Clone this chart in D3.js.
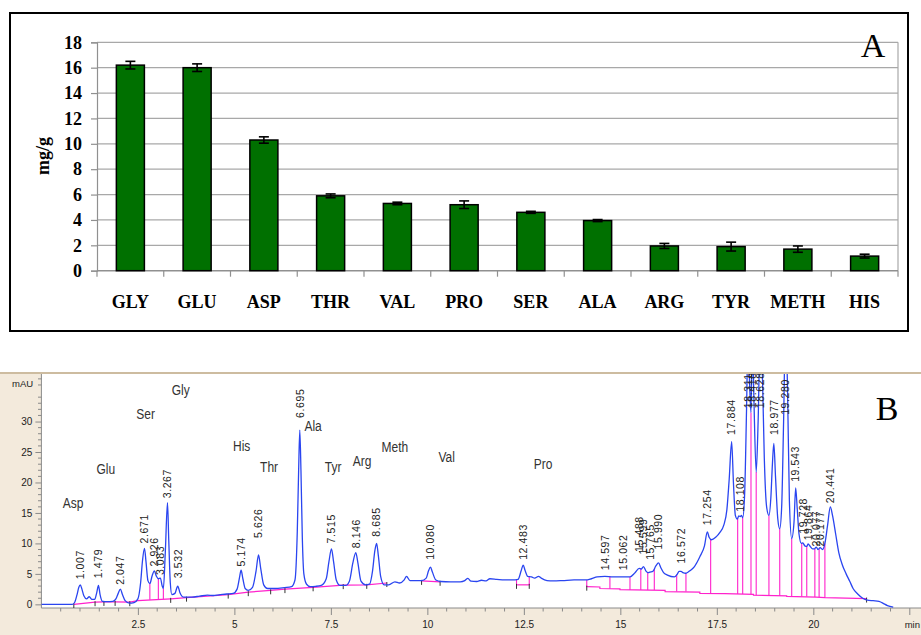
<!DOCTYPE html>
<html><head><meta charset="utf-8">
<script src="https://cdn.jsdelivr.net/npm/d3@7"></script>
<style>
html,body{margin:0;padding:0;background:#fff;}
svg{display:block;}
</style></head><body>
<svg id="fig" width="921" height="635"></svg>
<script>
// ---------- Panel A: free amino acid content ----------
const aminoAcids = ["GLY","GLU","ASP","THR","VAL","PRO","SER","ALA","ARG","TYR","METH","HIS"];
const contentMean = [16.2, 16.0, 10.3, 5.9, 5.3, 5.2, 4.6, 3.95, 1.95, 1.9, 1.7, 1.15];
const contentSD   = [0.3, 0.3, 0.25, 0.15, 0.1, 0.3, 0.08, 0.08, 0.2, 0.35, 0.25, 0.15];
const contentTicks = [0, 2, 4, 6, 8, 10, 12, 14, 16, 18];

// ---------- Panel B: HPLC chromatogram (time in min, signal in mAU) ----------
const traceB = [
 [0.00,0.0],[0.80,0.0],[0.86,0.3],[0.92,1.5],[0.97,2.8],[1.007,3.2],[1.05,2.5],[1.10,1.4],[1.17,0.9],[1.24,1.25],
 [1.31,0.8],[1.38,0.8],[1.43,1.8],[1.479,3.1],[1.52,1.6],[1.58,0.5],[1.70,0.45],[1.85,0.5],[1.93,0.9],[1.99,1.8],
 [2.047,2.5],[2.10,1.6],[2.17,0.6],[2.28,0.2],[2.40,0.3],[2.50,0.9],[2.57,3.5],[2.62,7.2],[2.671,9.2],[2.71,7.0],
 [2.76,3.9],[2.81,3.4],[2.87,4.7],[2.926,5.5],[2.98,4.6],[3.03,4.2],[3.083,4.3],[3.13,3.0],[3.16,2.6],[3.21,8.5],
 [3.267,16.7],[3.30,10.5],[3.34,3.5],[3.38,1.6],[3.46,1.8],[3.532,3.0],[3.59,1.9],[3.68,1.2],[3.90,1.2],[4.10,1.35],
 [4.30,1.5],[4.45,1.45],[4.60,1.55],[4.80,1.7],[4.97,1.8],[5.07,2.5],[5.13,4.3],[5.174,5.6],[5.22,4.2],[5.28,2.6],
 [5.36,2.3],[5.47,2.8],[5.56,5.4],[5.626,8.1],[5.68,6.0],[5.76,3.2],[5.86,2.6],[6.05,2.6],[6.30,2.75],[6.48,2.9],
 [6.57,4.0],[6.63,12.0],[6.665,22.0],[6.695,28.6],[6.725,22.0],[6.76,11.0],[6.80,5.0],[6.87,3.3],[6.97,2.9],[7.10,2.95],
 [7.25,3.1],[7.38,4.2],[7.45,7.0],[7.515,9.1],[7.57,7.0],[7.64,4.0],[7.74,3.1],[7.88,3.1],[7.98,3.8],[8.07,6.8],
 [8.146,8.5],[8.20,6.8],[8.28,3.8],[8.40,3.2],[8.50,3.3],[8.58,5.5],[8.64,8.8],[8.685,10.0],[8.73,8.0],[8.79,4.6],
 [8.88,3.2],[9.00,3.2],[9.16,3.7],[9.28,3.5],[9.40,4.0],[9.46,4.6],[9.55,3.9],[9.66,3.9],[9.85,3.9],[9.97,4.3],
 [10.03,5.5],[10.080,6.1],[10.13,5.3],[10.22,4.0],[10.35,3.75],[10.60,3.7],[10.85,3.7],[10.97,3.9],[11.05,4.25],[11.13,3.8],
 [11.28,3.75],[11.40,3.95],[11.52,3.85],[11.62,4.2],[11.80,4.1],[12.00,4.0],[12.20,4.0],[12.35,4.1],[12.43,5.5],[12.483,6.45],
 [12.53,5.6],[12.60,4.6],[12.70,4.5],[12.78,4.3],[12.88,4.6],[12.95,4.3],[13.10,3.9],[13.26,3.85],[13.50,3.9],[13.80,4.0],
 [14.10,4.0],[14.25,4.2],[14.40,4.5],[14.60,4.6],[14.80,4.5],[15.06,4.5],[15.25,4.5],[15.38,5.2],[15.488,5.9],[15.54,5.8],
 [15.599,6.2],[15.66,5.5],[15.72,5.2],[15.765,5.3],[15.84,5.4],[15.92,6.3],[15.990,6.8],[16.05,6.0],[16.12,5.2],[16.22,4.8],
 [16.40,4.5],[16.48,5.0],[16.52,5.4],[16.572,5.4],[16.62,5.2],[16.70,5.1],[16.80,5.5],[16.92,6.2],[17.06,7.8],[17.18,9.6],
 [17.254,11.9],[17.30,11.0],[17.36,10.6],[17.47,11.0],[17.58,11.8],[17.68,13.0],[17.76,15.5],[17.82,20.5],[17.884,26.7],[17.93,20.0],
 [17.98,14.6],[18.03,14.0],[18.07,14.5],[18.108,14.4],[18.14,14.6],[18.17,14.2],[18.22,18.0],[18.27,32.0],[18.311,45.0],[18.35,36.0],
 [18.385,31.5],[18.42,45.0],[18.46,34.0],[18.52,21.7],[18.57,30.0],[18.628,46.0],[18.68,38.0],[18.73,24.0],[18.79,16.0],[18.85,14.6],
 [18.90,17.5],[18.94,23.0],[18.977,26.4],[19.02,21.0],[19.08,14.0],[19.13,12.4],[19.18,16.0],[19.23,30.0],[19.280,46.0],[19.33,36.0],
 [19.38,17.0],[19.44,10.8],[19.50,13.5],[19.543,19.1],[19.58,16.0],[19.63,11.5],[19.69,10.0],[19.728,10.1],[19.78,9.6],[19.83,9.5],
 [19.864,9.9],[19.92,9.5],[19.98,9.1],[20.03,9.1],[20.077,9.4],[20.12,9.0],[20.177,9.3],[20.24,9.0],[20.30,10.0],[20.37,13.0],
 [20.441,16.0],[20.50,14.5],[20.58,11.5],[20.66,8.5],[20.75,6.5],[20.85,5.0],[20.95,3.7],[21.03,2.6],[21.15,1.7],[21.28,1.0],
 [21.40,0.7],[21.55,0.6],[21.70,0.5],[21.80,0.2],[21.92,-0.2],[22.07,-0.45]
];

// integration baselines (polylines, [min, mAU])
const integrationBaselines = [
 [[0.84,0],[1.39,0.35],[1.62,0.4],[1.91,0.4],[2.29,0.35],[2.50,0.6],[3.35,0.9],[3.76,1.1],[4.84,1.6],[5.36,2.0],
  [5.94,2.3],[6.31,2.5],[7.04,2.8],[7.82,3.15],[8.43,3.2],[8.95,3.5]],
 [[9.85,3.85],[10.33,3.7]],
 [[12.31,3.2],[12.64,3.2]],
 [[14.13,2.9],[14.47,2.85],[14.47,2.6],[14.99,2.55],[14.99,2.4],[16.16,2.3],[16.16,2.1],[17.06,2.0],[17.06,1.8],
  [17.71,1.75],[18.45,1.65],[18.45,1.5],[19.31,1.4],[19.31,1.3],[20.08,1.2],[20.30,1.1],[21.38,0.95]]
];

// peak boundary drop lines: [min, baseline mAU, signal mAU]
const dropLines = [
 [2.81,0.75,3.4],[3.03,0.8,4.2],[3.16,0.85,2.6],[12.31,3.2,4.05],[12.64,3.2,4.55],[14.13,2.9,4.0],
 [14.73,2.55,4.6],[15.25,2.35,4.5],[15.53,2.35,5.9],[15.71,2.35,5.25],[15.88,2.35,5.8],[16.46,2.1,4.9],
 [16.70,2.1,5.1],[17.34,1.8,10.7],[18.04,1.7,14.1],[18.17,1.7,14.2],[18.385,1.65,31.5],[18.52,1.5,21.7],
 [18.85,1.5,14.6],[19.13,1.4,12.4],[19.44,1.3,10.8],[19.70,1.3,10.0],[19.83,1.3,9.5],[20.04,1.2,9.1],
 [20.15,1.2,9.1],[20.30,1.1,10.0]
];

// segment end markers on the integration baseline: [min, mAU]
const baselineMarks = [
 [0.84,0],[1.39,0.35],[1.62,0.4],[1.91,0.4],[2.29,0.35],[3.35,0.9],[3.76,1.1],[4.84,1.6],[5.36,2.0],[5.94,2.3],
 [6.31,2.5],[7.04,2.8],[7.82,3.15],[8.43,3.2],[8.95,3.5],[9.85,3.85],[10.33,3.7],[12.31,3.2],[12.64,3.2],[14.13,2.9],[21.38,0.95]
];

// retention-time labels: [text, min, mAU at label foot]
const peakLabels = [
 ["1.007",1.007,4.1],["1.479",1.479,4.3],["2.047",2.047,3.2],["2.671",2.671,10.0],["2.926",2.926,6.2],
 ["3.083",3.083,4.8],["3.267",3.267,17.4],["3.532",3.532,4.3],["5.174",5.174,6.2],["5.626",5.626,10.9],
 ["6.695",6.695,30.6],["7.515",7.515,10.0],["8.146",8.146,9.2],["8.685",8.685,11.1],["10.080",10.080,7.3],
 ["12.483",12.483,7.3],["14.597",14.597,5.6],["15.062",15.062,5.6],["15.488",15.488,8.6],["15.599",15.599,8.2],
 ["15.765",15.765,7.3],["15.990",15.990,9.0],["16.572",16.572,6.7],["17.254",17.254,13.0],["17.884",17.884,27.8],
 ["18.108",18.108,15.2],["18.311",18.311,32.2],["18.418",18.418,32.2],["18.628",18.628,32.2],["18.977",18.977,27.8],
 ["19.280",19.280,31.1],["19.543",19.543,20.1],["19.728",19.728,11.6],["19.864",19.864,10.5],["20.077",20.077,9.5],
 ["20.177",20.177,9.5],["20.441",20.441,16.6]
];

// compound annotations: [name, min, mAU]
const compoundNames = [
 ["Asp",0.82,16.6],["Glu",1.67,22.2],["Ser",2.70,31.3],["Gly",3.61,35.1],["His",5.19,26.0],["Thr",5.90,22.6],
 ["Ala",7.04,29.2],["Tyr",7.56,22.6],["Arg",8.31,23.6],["Meth",9.16,25.8],["Val",10.50,24.1],["Pro",13.00,23.0]
];
const timeTicks = [2.5, 5, 7.5, 10, 12.5, 15, 17.5, 20];
const signalTicks = [0, 5, 10, 15, 20, 25, 30];

const svg = d3.select("#fig");
const serif = "'Liberation Serif','Times New Roman',serif";
const sans = "'Liberation Sans',Arial,sans-serif";

// ======================= Panel A =======================
const gA = svg.append("g");
gA.append("rect").attr("x",10).attr("y",13).attr("width",898).attr("height",318)
  .attr("fill","#fff").attr("stroke","#000").attr("stroke-width",2);

const xA = d3.scaleBand().domain(aminoAcids).range([97, 898]).paddingInner(0.58).paddingOuter(0.29);
const yA = d3.scaleLinear().domain([0, 18]).range([270.7, 42.3]);

// horizontal gridlines
gA.selectAll("line.grid").data(contentTicks.filter(d => d > 0)).join("line")
  .attr("x1",97).attr("x2",898).attr("y1",d=>yA(d)).attr("y2",d=>yA(d))
  .attr("stroke","#a8a8a8").attr("stroke-width",1.2);
gA.append("line").attr("x1",898).attr("x2",898).attr("y1",yA(18)).attr("y2",yA(0))
  .attr("stroke","#a8a8a8").attr("stroke-width",1.2);

// y axis
const axA = gA.append("g").attr("transform","translate(97,0)")
  .call(d3.axisLeft(yA).tickValues(contentTicks).tickSize(6).tickPadding(9).tickFormat(d3.format("d")));
axA.select(".domain").attr("stroke","#909090").attr("stroke-width",1.2);
axA.selectAll(".tick line").attr("stroke","#909090").attr("stroke-width",1.2);
axA.selectAll("text").attr("font-family",serif).attr("font-weight","bold").attr("font-size",18).attr("fill","#000");

// x axis line, boundary ticks and labels
gA.append("line").attr("x1",97).attr("x2",898).attr("y1",yA(0)).attr("y2",yA(0))
  .attr("stroke","#909090").attr("stroke-width",1.4);
gA.selectAll("line.bt").data(d3.range(aminoAcids.length + 1)).join("line")
  .attr("x1",i=>97 + i*xA.step()).attr("x2",i=>97 + i*xA.step())
  .attr("y1",yA(0)).attr("y2",yA(0)+6).attr("stroke","#909090").attr("stroke-width",1.2);
gA.selectAll("text.cat").data(aminoAcids).join("text")
  .attr("x",d=>xA(d)+xA.bandwidth()/2).attr("y",308)
  .attr("text-anchor","middle").attr("font-family",serif).attr("font-weight","bold")
  .attr("font-size",18).attr("fill","#000").text(d=>d);

// bars
gA.selectAll("rect.bar").data(aminoAcids).join("rect")
  .attr("x",d=>xA(d)).attr("width",xA.bandwidth())
  .attr("y",(d,i)=>yA(contentMean[i])).attr("height",(d,i)=>yA(0)-yA(contentMean[i]))
  .attr("fill","#007000").attr("stroke","#000").attr("stroke-width",1.5);

// error bars
const eb = gA.selectAll("g.eb").data(aminoAcids).join("g");
eb.append("line")
  .attr("x1",d=>xA(d)+xA.bandwidth()/2).attr("x2",d=>xA(d)+xA.bandwidth()/2)
  .attr("y1",(d,i)=>yA(contentMean[i]-contentSD[i])).attr("y2",(d,i)=>yA(contentMean[i]+contentSD[i]))
  .attr("stroke","#000").attr("stroke-width",1.6);
[-1, 1].forEach(s => {
  eb.append("line")
    .attr("x1",d=>xA(d)+xA.bandwidth()/2-5).attr("x2",d=>xA(d)+xA.bandwidth()/2+5)
    .attr("y1",(d,i)=>yA(contentMean[i]+s*contentSD[i])).attr("y2",(d,i)=>yA(contentMean[i]+s*contentSD[i]))
    .attr("stroke","#000").attr("stroke-width",1.6);
});

gA.append("text").attr("transform","translate(44,156) rotate(-90)").attr("dy","0.3em")
  .attr("text-anchor","middle").attr("font-family",serif).attr("font-weight","bold")
  .attr("font-size",18).attr("fill","#000").text("mg/g");
gA.append("text").attr("x",873).attr("y",57).attr("text-anchor","middle")
  .attr("font-family",serif).attr("font-size",34).attr("fill","#000").text("A");

// ======================= Panel B =======================
const gB = svg.append("g");
const xB = d3.scaleLinear().domain([0, 22.79]).range([41.4, 921]);
const yB = d3.scaleLinear().domain([-0.6, 37.8]).range([608, 374]);

gB.append("rect").attr("x",0).attr("y",373).attr("width",921).attr("height",262).attr("fill","#f3eadc");
gB.append("line").attr("x1",0).attr("x2",921).attr("y1",373).attr("y2",373).attr("stroke","#cdbca0").attr("stroke-width",2);
gB.append("rect").attr("x",41.4).attr("y",374).attr("width",921-41.4).attr("height",608-374).attr("fill","#fff");

svg.append("defs").append("clipPath").attr("id","plotB")
  .append("rect").attr("x",41.4).attr("y",374).attr("width",921-41.4).attr("height",608-374);

// axes
const axBx = gB.append("g").attr("transform","translate(0,608)")
  .call(d3.axisBottom(xB).tickValues(timeTicks).tickSize(7).tickPadding(6).tickFormat(d=>String(d)));
axBx.select(".domain").remove();
gB.append("line").attr("x1",41.4).attr("x2",921).attr("y1",608).attr("y2",608).attr("stroke","#8a8a8a");
axBx.selectAll(".tick line").attr("stroke","#8a8a8a");
axBx.selectAll("text").attr("font-family",sans).attr("font-size",10).attr("fill","#222");
gB.selectAll("line.mx").data(d3.range(0.5, 22.6, 0.5).filter(d => Math.abs(d/2.5 - Math.round(d/2.5)) > 1e-6)).join("line")
  .attr("x1",d=>xB(d)).attr("x2",d=>xB(d)).attr("y1",608).attr("y2",611.5).attr("stroke","#8a8a8a");
gB.append("line").attr("x1",xB(22.5)).attr("x2",xB(22.5)).attr("y1",608).attr("y2",615).attr("stroke","#8a8a8a");
gB.append("text").attr("x",920).attr("y",627.5).attr("text-anchor","end").attr("font-family",sans)
  .attr("font-size",9.5).attr("fill","#222").text("min");

const axBy = gB.append("g").attr("transform","translate(41.4,0)")
  .call(d3.axisLeft(yB).tickValues(signalTicks).tickSize(6).tickPadding(3));
axBy.select(".domain").remove();
gB.append("line").attr("x1",41.4).attr("x2",41.4).attr("y1",374).attr("y2",608).attr("stroke","#8a8a8a");
axBy.selectAll(".tick line").attr("stroke","#8a8a8a");
axBy.selectAll("text").attr("font-family",sans).attr("font-size",10).attr("fill","#222");
gB.selectAll("line.my").data(d3.range(0, 38).filter(d => d % 5 !== 0)).join("line")
  .attr("x1",38).attr("x2",41.4).attr("y1",d=>yB(d)).attr("y2",d=>yB(d)).attr("stroke","#8a8a8a");
gB.append("text").attr("x",12).attr("y",387).attr("font-family",sans).attr("font-size",9.5)
  .attr("fill","#222").text("mAU");

// plotted content
const plot = gB.append("g").attr("clip-path","url(#plotB)");
const lineB = d3.line().x(d=>xB(d[0])).y(d=>yB(d[1]));

plot.selectAll("path.base").data(integrationBaselines).join("path")
  .attr("d",lineB).attr("fill","none").attr("stroke","#ff22cc").attr("stroke-width",1.2);
plot.selectAll("line.drop").data(dropLines).join("line")
  .attr("x1",d=>xB(d[0])).attr("x2",d=>xB(d[0])).attr("y1",d=>yB(d[1])).attr("y2",d=>yB(d[2]))
  .attr("stroke","#ff22cc").attr("stroke-width",1.1);
plot.selectAll("line.mark").data(baselineMarks).join("line")
  .attr("x1",d=>xB(d[0])).attr("x2",d=>xB(d[0])).attr("y1",d=>yB(d[1])-1).attr("y2",d=>yB(d[1])+4)
  .attr("stroke","#333").attr("stroke-width",1);

plot.append("path").datum(traceB)
  .attr("d",lineB.curve(d3.curveMonotoneX)).attr("fill","none")
  .attr("stroke","#2a45f0").attr("stroke-width",1.3);

plot.selectAll("text.rt").data(peakLabels).join("text")
  .attr("transform",d=>`translate(${xB(d[1])},${yB(d[2])}) rotate(-90)`)
  .attr("dy","0.36em").attr("font-family",sans).attr("font-size",10.5)
  .attr("letter-spacing",0.6).attr("fill","#222").text(d=>d[0]);

plot.selectAll("text.cmp").data(compoundNames).join("text")
  .attr("transform",d=>`translate(${xB(d[1])},${yB(d[2])}) scale(0.8,1)`)
  .attr("text-anchor","middle").attr("dominant-baseline","central")
  .attr("font-family",sans).attr("font-size",15).attr("fill","#333").text(d=>d[0]);

gB.append("text").attr("x",887).attr("y",420).attr("text-anchor","middle")
  .attr("font-family",serif).attr("font-size",34).attr("fill","#000").text("B");
</script>
</body></html>
